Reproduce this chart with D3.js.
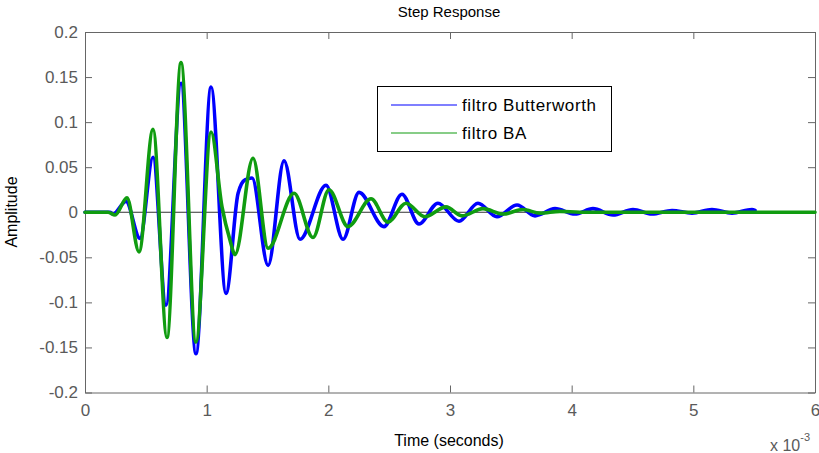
<!DOCTYPE html>
<html>
<head>
<meta charset="utf-8">
<script src="https://cdn.jsdelivr.net/npm/d3@7/dist/d3.min.js"></script>
<style>
  html, body { margin: 0; padding: 0; background: #fff; }
  svg { display: block; font-family: "Liberation Sans", Arial, Helvetica, sans-serif; }
</style>
</head>
<body>
<svg id="chart" width="819" height="453"></svg>
<script>
// Step response of two filters; time in milliseconds (axis shows x 10^-3 s)
const butterT = [0, 0.205, 0.230, 0.337, 0.452, 0.559, 0.666, 0.789, 0.912, 1.036, 1.159, 1.258, 1.315, 1.373,
  1.505, 1.636, 1.767, 1.981, 2.121, 2.252, 2.457, 2.605, 2.745, 2.901, 3.074, 3.230, 3.386, 3.551, 3.699,
  3.863, 4.027, 4.175, 4.340, 4.504, 4.660, 4.825, 4.989, 5.153, 5.318, 5.482, 5.507];
const butterA = [0, 0, -0.002, 0.012, -0.029, 0.061, -0.103, 0.143, -0.157, 0.139, -0.090, 0.021, 0.036, 0.038,
  -0.059, 0.057, -0.030, 0.030, -0.030, 0.022, -0.016, 0.020, -0.013, 0.010, -0.010, 0.010, -0.005, 0.008, -0.004,
  0.004, -0.002, 0.004, -0.003, 0.003, -0.002, 0.002, -0.001, 0.003, -0.001, 0.003, 0.002];

const baT = [0, 0.189, 0.247, 0.345, 0.444, 0.559, 0.674, 0.789, 0.912, 1.036, 1.126, 1.192, 1.233, 1.381,
  1.505, 1.718, 1.874, 2.005, 2.162, 2.351, 2.490, 2.638, 2.794, 2.967, 3.099, 3.271, 3.436, 3.600, 3.740,
  3.904, 4.068, 6.0];
const baA = [0, 0, -0.003, 0.016, -0.044, 0.092, -0.139, 0.166, -0.144, 0.089, 0.006, -0.031, -0.047, 0.060,
  -0.040, 0.021, -0.028, 0.025, -0.016, 0.015, -0.011, 0.010, -0.005, 0.006, -0.004, 0.004, -0.002, 0.003, -0.001,
  0.001, 0, 0];

const seriesNames = ["filtro Butterworth", "filtro BA"];
const seriesColors = ["#0000ff", "#109c10"];

const xTicks = [0, 1, 2, 3, 4, 5, 6];
const yTicks = [-0.2, -0.15, -0.1, -0.05, 0, 0.05, 0.1, 0.15, 0.2];
const yTickLabels = ["-0.2", "-0.15", "-0.1", "-0.05", "0", "0.05", "0.1", "0.15", "0.2"];

const svg = d3.select("#chart");
const plotLeft = 85, plotRight = 815, plotTop = 32, plotBottom = 392.5;

const x = d3.scaleLinear().domain([0, 6]).range([plotLeft, plotRight]);
const y = d3.scaleLinear().domain([-0.2, 0.2]).range([plotBottom, plotTop]);

const axisColor = "#666";

// axes box with inward ticks on all four sides
const gx = svg.append("g").attr("transform", `translate(0,${plotBottom})`)
  .call(d3.axisBottom(x).tickValues(xTicks).tickFormat(d3.format("d")).tickSizeInner(-7).tickSizeOuter(0).tickPadding(11));
const gy = svg.append("g").attr("transform", `translate(${plotLeft},0)`)
  .call(d3.axisLeft(y).tickValues(yTicks).tickFormat((d, i) => yTickLabels[i]).tickSizeInner(-7).tickSizeOuter(0).tickPadding(7));
const gt = svg.append("g").attr("transform", `translate(0,${plotTop})`)
  .call(d3.axisTop(x).tickValues(xTicks).tickFormat("").tickSizeInner(-7).tickSizeOuter(0));
const gr = svg.append("g").attr("transform", `translate(${plotRight},0)`)
  .call(d3.axisRight(y).tickValues(yTicks).tickFormat("").tickSizeInner(-7).tickSizeOuter(0));

[gx, gy, gt, gr].forEach(g => {
  g.select(".domain").attr("stroke", axisColor).attr("stroke-width", 1);
  g.selectAll(".tick line").attr("stroke", axisColor).attr("stroke-width", 1);
  g.selectAll(".tick text").attr("fill", "#5a5a5a").attr("font-size", 17)
    .attr("font-family", "Liberation Sans, Arial, sans-serif");
});

// zero reference line
svg.append("line")
  .attr("x1", x(0)).attr("x2", x(6)).attr("y1", y(0)).attr("y2", y(0))
  .attr("stroke", "#333").attr("stroke-width", 1);

const line = d3.line().x(d => x(d[0])).y(d => y(d[1])).curve(d3.curveMonotoneX);

const series = [
  d3.zip(butterT, butterA),
  d3.zip(baT, baA)
];

series.forEach((s, i) => {
  svg.append("path")
    .datum(s)
    .attr("d", line)
    .attr("fill", "none")
    .attr("stroke", seriesColors[i])
    .attr("stroke-width", 3.6)
    .attr("stroke-linejoin", "round")
    .attr("stroke-linecap", "round");
});

// title and axis labels
svg.append("text").attr("x", 449).attr("y", 17).attr("text-anchor", "middle")
  .attr("font-size", 15).attr("fill", "#000").text("Step Response");
svg.append("text").attr("x", 449).attr("y", 446).attr("text-anchor", "middle")
  .attr("font-size", 16).attr("fill", "#000").text("Time (seconds)");
svg.append("text").attr("transform", "translate(17,212) rotate(-90)").attr("text-anchor", "middle")
  .attr("font-size", 16).attr("fill", "#000").text("Amplitude");

// exponent marker for the time axis
const expo = svg.append("text").attr("x", 770).attr("y", 451).attr("fill", "#5a5a5a").attr("font-size", 16);
expo.append("tspan").text("x 10");
expo.append("tspan").attr("dy", -10).attr("font-size", 11).text("-3");

// legend
const lg = svg.append("g");
lg.append("rect").attr("x", 377.5).attr("y", 86.5).attr("width", 234).attr("height", 65)
  .attr("fill", "#fff").attr("stroke", "#000").attr("stroke-width", 1);
seriesNames.forEach((name, i) => {
  const ly = 105 + i * 28;
  lg.append("line").attr("x1", 391).attr("x2", 457).attr("y1", ly).attr("y2", ly)
    .attr("stroke", seriesColors[i]).attr("stroke-width", 1.2);
  lg.append("text").attr("x", 462).attr("y", ly + 6).attr("font-size", 17)
    .attr("letter-spacing", 0.6).attr("fill", "#000").text(name);
});
</script>
</body>
</html>
